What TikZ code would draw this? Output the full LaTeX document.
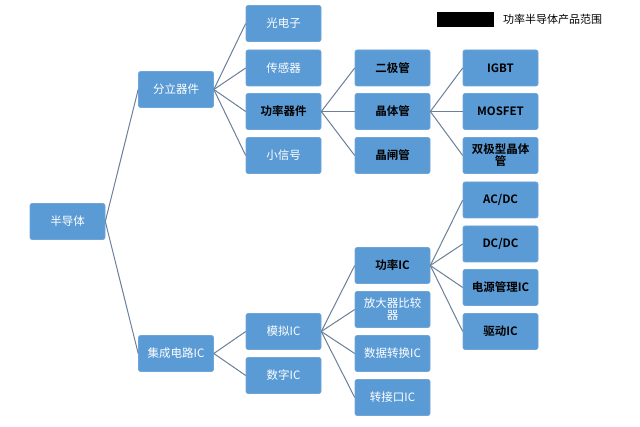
\documentclass[tikz,border=0pt]{standalone}
\usepackage{fontspec}
\setmainfont{Noto Sans CJK SC}[BoldFont={Noto Sans CJK SC Bold}]
\begin{document}
\begin{tikzpicture}[x=1pt,y=-1pt,
  box/.style={draw=boxline,line width=0.6pt,fill=boxfill,rounded corners=2pt,minimum width=75pt,minimum height=36pt,inner sep=1pt,align=center,font=\fontsize{11.5}{12}\selectfont,text=white},
  pw/.style={box,text=black,font=\fontsize{11.5}{12}\selectfont\bfseries},
  link/.style={draw=linec,line width=1pt}]
\definecolor{boxfill}{HTML}{5B9BD5}
\definecolor{boxline}{HTML}{6FA6DA}
\definecolor{linec}{HTML}{6A7F99}
\useasboundingbox (0,0) rectangle (640,427);
\node[box] (root) at (67.5,221.5) {半导体};
\node[box] (dis) at (176,89.5) {分立器件};
\node[box] (ic) at (176,353.5) {集成电路IC};
\node[box] (gdz) at (283.5,23.5) {光电子};
\node[box] (cgq) at (283.5,68) {传感器};
\node[pw] (glqj) at (283.5,111.5) {功率器件};
\node[box] (xxh) at (283.5,155.5) {小信号};
\node[box] (mn) at (283.5,331.5) {模拟IC};
\node[box] (sz) at (283.5,375.5) {数字IC};
\node[pw] (ejg) at (392.5,68) {二极管};
\node[pw] (jtg) at (392.5,111.5) {晶体管};
\node[pw] (jzg) at (392.5,155.5) {晶闸管};
\node[pw] (glic) at (392.5,265.5) {功率IC};
\node[box] (fdq) at (392.5,309.5) {放大器比较\\器};
\node[box] (sjzh) at (392.5,353.5) {数据转换IC};
\node[box] (zjk) at (392.5,397.5) {转接口IC};
\node[pw] (igbt) at (500.5,68) {IGBT};
\node[pw] (mos) at (500.5,111.5) {MOSFET};
\node[pw] (sjx) at (500.5,155.5) {双极型晶体\\管};
\node[pw] (acdc) at (500.5,200) {AC/DC};
\node[pw] (dcdc) at (500.5,244) {DC/DC};
\node[pw] (dygl) at (500.5,287.5) {电源管理IC};
\node[pw] (qd) at (500.5,331.5) {驱动IC};
\fill[black] (437,12) rectangle (494,27);
\node[anchor=west,inner sep=0pt,font=\fontsize{11}{12}\selectfont] (leg) at (503,19) {功率半导体产品范围};
\foreach \p/\c in {root/dis,root/ic,dis/gdz,dis/cgq,dis/glqj,dis/xxh,ic/mn,ic/sz,glqj/ejg,glqj/jtg,glqj/jzg,jtg/igbt,jtg/mos,jtg/sjx,mn/glic,mn/fdq,mn/sjzh,mn/zjk,glic/acdc,glic/dcdc,glic/dygl,glic/qd}
  \draw[link] (\p.east) -- (\c.west);
\end{tikzpicture}
\end{document}
